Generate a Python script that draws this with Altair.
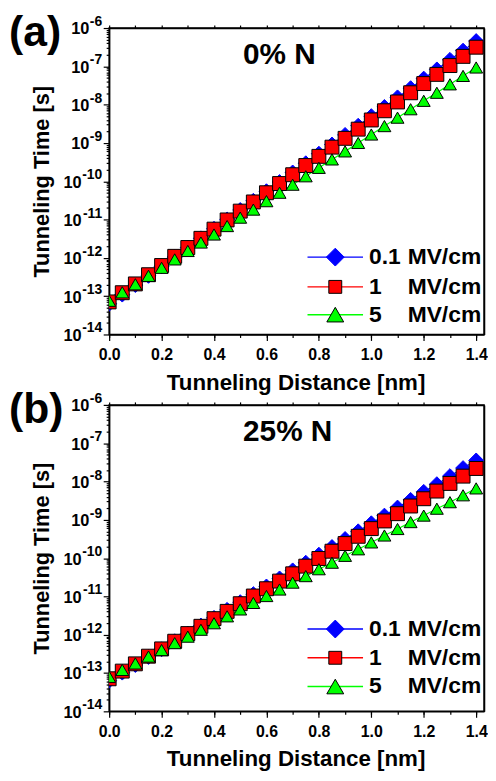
import altair as alt
import pandas as pd

FONT = "Liberation Sans, Arial, Helvetica, sans-serif"

# Tunneling distance [nm]
distance = [0.00, 0.05, 0.10, 0.15, 0.20, 0.25, 0.30, 0.35, 0.40, 0.45,
            0.50, 0.55, 0.60, 0.65, 0.70, 0.75, 0.80, 0.85, 0.90, 0.95,
            1.00, 1.05, 1.10, 1.15, 1.20, 1.25, 1.30, 1.35, 1.40]

# log10 of tunneling time [s], panel (a): 0% N
a_f01 = [-13.20, -12.96, -12.71, -12.47, -12.22, -11.98, -11.73, -11.49, -11.24, -11.00,
         -10.75, -10.51, -10.26, -10.02, -9.77, -9.53, -9.28, -9.04, -8.79, -8.55,
         -8.30, -8.06, -7.81, -7.57, -7.32, -7.08, -6.83, -6.59, -6.34]
a_f1 = [-13.15, -12.91, -12.68, -12.44, -12.20, -11.96, -11.73, -11.49, -11.25, -11.01,
        -10.78, -10.54, -10.30, -10.06, -9.83, -9.59, -9.35, -9.11, -8.88, -8.64,
        -8.40, -8.16, -7.93, -7.69, -7.45, -7.21, -6.98, -6.74, -6.50]
a_f5 = [-13.12, -12.90, -12.69, -12.47, -12.26, -12.04, -11.82, -11.60, -11.39, -11.17,
        -10.95, -10.74, -10.52, -10.30, -10.09, -9.87, -9.65, -9.43, -9.22, -9.00,
        -8.78, -8.56, -8.34, -8.12, -7.90, -7.69, -7.47, -7.25, -7.03]

# log10 of tunneling time [s], panel (b): 25% N
b_f01 = [-13.20, -12.99, -12.79, -12.58, -12.38, -12.17, -11.97, -11.76, -11.56, -11.35,
         -11.15, -10.94, -10.74, -10.53, -10.32, -10.12, -9.91, -9.71, -9.50, -9.30,
         -9.09, -8.89, -8.68, -8.48, -8.27, -8.07, -7.86, -7.65, -7.45]
b_f1 = [-13.15, -12.95, -12.76, -12.56, -12.37, -12.17, -11.97, -11.78, -11.58, -11.39,
        -11.19, -10.99, -10.80, -10.60, -10.41, -10.21, -10.01, -9.82, -9.62, -9.43,
        -9.23, -9.03, -8.84, -8.64, -8.45, -8.25, -8.05, -7.86, -7.66]
b_f5 = [-13.10, -12.92, -12.75, -12.57, -12.40, -12.22, -12.05, -11.87, -11.70, -11.52,
        -11.34, -11.17, -10.99, -10.82, -10.64, -10.47, -10.29, -10.12, -9.94, -9.77,
        -9.59, -9.41, -9.24, -9.06, -8.89, -8.71, -8.54, -8.36, -8.18]

series = ["0.1 MV/cm", "1 MV/cm", "5 MV/cm"]
field_num = ["0.1", "1", "5"]
field_unit = "MV/cm"
colors = ["#0000ff", "#ff0000", "#00ff00"]
edge = ["#0000ff", "#000000", "#000000"]
shapes = ["diamond", "square", "triangle-up"]
sizes = [225, 169, 256]
leg_sizes = [324, 169, 289]

x_major = [0.0, 0.2, 0.4, 0.6, 0.8, 1.0, 1.2, 1.4]
x_all = [0.0, 0.1, 0.2, 0.3, 0.4, 0.5, 0.6, 0.7, 0.8, 0.9, 1.0, 1.1, 1.2, 1.3, 1.4]
y_exps = [-6, -7, -8, -9, -10, -11, -12, -13, -14]

y_major = [10.0 ** e for e in y_exps]
y_minor = [m * 10.0 ** e for e in range(-14, -6) for m in range(2, 10)]

W, H = 378, 309
EXP_FS = 14
EXP_W1 = 0.889 * EXP_FS
EXP_W2 = 1.445 * EXP_FS


def panel(logs, tag, comp, leg_y):
    df = pd.DataFrame({
        "d": distance * 3,
        "t": [10 ** v for s in logs for v in s],
        "s": [n for n in series for _ in distance],
    })
    xs = alt.Scale(domain=[0, 1.43], nice=False, zero=False)
    ys = alt.Scale(type="log", domain=[1e-14, 1e-6], nice=False)
    base = alt.Chart(df)

    x_axis = alt.Axis(values=x_major, format=".1f", tickSize=6, labelPadding=6,
                      labelFontSize=16, title="Tunneling Distance [nm]", titleFontSize=22.5,
                      titleX=W / 2 - 1, titleY=48, titleBaseline="middle", grid=False,
                      labelFlush=False, orient="bottom")
    y_axis = alt.Axis(values=y_major, labels=False, tickSize=6, title="Tunneling Time [s]",
                      titleFontSize=22, titleX=-68, titleY=H / 2, titleAngle=270,
                      titleAlign="center", titleBaseline="middle", grid=False, orient="left")

    lines = base.mark_line(strokeWidth=1.2, clip=True).encode(
        x=alt.X("d:Q", scale=xs, axis=x_axis),
        y=alt.Y("t:Q", scale=ys, axis=y_axis),
        color=alt.Color("s:N", scale=alt.Scale(domain=series, range=colors), legend=None),
    )
    pts = base.mark_point(filled=True, opacity=1, strokeWidth=1, clip=True).encode(
        x=alt.X("d:Q", scale=xs, axis=None),
        y=alt.Y("t:Q", scale=ys, axis=None),
        shape=alt.Shape("s:N", scale=alt.Scale(domain=series, range=shapes), legend=None),
        fill=alt.Fill("s:N", scale=alt.Scale(domain=series, range=colors), legend=None),
        stroke=alt.Stroke("s:N", scale=alt.Scale(domain=series, range=edge), legend=None),
        size=alt.Size("s:N", scale=alt.Scale(domain=series, range=sizes), legend=None),
    )
    minor = base.mark_point(opacity=0).encode(
        x=alt.X("d:Q", scale=xs, axis=alt.Axis(values=x_all, tickSize=3, labels=False,
                                                domain=False, title="", grid=False, orient="bottom")),
        y=alt.Y("t:Q", scale=ys, axis=alt.Axis(values=y_minor, tickSize=3, labels=False,
                                                domain=False, title="", grid=False, orient="left")),
    )
    mirror = base.mark_point(opacity=0).encode(
        x=alt.X("d:Q", scale=xs, axis=alt.Axis(values=x_all, tickSize=3, labels=False,
                                                title="", grid=False, orient="top")),
        y=alt.Y("t:Q", scale=ys, axis=alt.Axis(values=y_major, ticks=False, labels=False,
                                                title="", grid=False, orient="right")),
    )

    lab = alt.Chart(pd.DataFrame({"e": y_exps})).transform_calculate(
        v="pow(10, datum.e)", lab="toString(datum.e)")
    exp_txt = lab.mark_text(align="right", baseline="middle", dy=-6, fontSize=EXP_FS,
                            fontWeight="bold", font=FONT, color="black").encode(
        x=alt.value(-7), y=alt.Y("v:Q", scale=ys, axis=None), text="lab:N")
    ten1 = lab.transform_filter("datum.e > -10").mark_text(
        align="right", baseline="middle", dy=1.5, fontSize=16.5, fontWeight="bold",
        font=FONT, color="black").encode(
        x=alt.value(-7 - EXP_W1 - 0.5), y=alt.Y("v:Q", scale=ys, axis=None), text=alt.value("10"))
    ten2 = lab.transform_filter("datum.e <= -10").mark_text(
        align="right", baseline="middle", dy=1.5, fontSize=16.5, fontWeight="bold",
        font=FONT, color="black").encode(
        x=alt.value(-7 - EXP_W2 - 0.5), y=alt.Y("v:Q", scale=ys, axis=None), text=alt.value("10"))

    tag_txt = alt.Chart(pd.DataFrame({"lab": [tag]})).mark_text(
        align="left", baseline="top", fontSize=43, fontWeight="bold", font=FONT,
        color="black").encode(x=alt.value(-101), y=alt.value(-16), text="lab:N")
    comp_txt = alt.Chart(pd.DataFrame({"lab": [comp]})).mark_text(
        align="left", baseline="alphabetic", fontSize=30, fontWeight="bold", font=FONT,
        color="black").encode(x=alt.value(135), y=alt.value(36), text="lab:N")

    legend = []
    for i in range(3):
        one = alt.Chart(pd.DataFrame({"s": [series[i]]}))
        legend.append(one.mark_rule(color=colors[i], strokeWidth=1.5).encode(
            x=alt.value(200), x2=alt.value(256), y=alt.value(leg_y[i])))
        legend.append(one.mark_point(shape=shapes[i], filled=True, fill=colors[i],
                                     stroke=edge[i], strokeWidth=1, size=leg_sizes[i],
                                     opacity=1).encode(
            x=alt.value(228), y=alt.value(leg_y[i])))
        legend.append(one.mark_text(align="left", baseline="middle", fontSize=23,
                                    fontWeight="bold", font=FONT, color="black").encode(
            x=alt.value(262), y=alt.value(leg_y[i]), text=alt.value(field_num[i])))
        legend.append(one.mark_text(align="left", baseline="middle", fontSize=23,
                                    fontWeight="bold", font=FONT, color="black").encode(
            x=alt.value(301), y=alt.value(leg_y[i]), text=alt.value(field_unit)))

    return alt.layer(lines, pts, minor, mirror, exp_txt, ten1, ten2, tag_txt, comp_txt,
                     *legend).resolve_axis(x="independent", y="independent").properties(
        width=W, height=H)


top = panel([a_f01, a_f1, a_f5], "(a)", "0% N", [231, 261, 289])
bottom = panel([b_f01, b_f1, b_f5], "(b)", "25% N", [226, 255, 284])

chart = alt.vconcat(top, bottom, spacing=71, bounds="flush").properties(
    padding={"left": 0, "top": 0, "right": 0, "bottom": 0}
).configure_view(stroke="black", strokeWidth=1.5).configure_axis(
    domainColor="black", domainWidth=1.5, tickColor="black", tickWidth=1.2,
    labelFont=FONT, labelFontWeight="bold", labelColor="black",
    titleFont=FONT, titleFontWeight="bold", titleColor="black",
)

chart.save("out.html", embed_options={"renderer": "svg", "actions": False})
